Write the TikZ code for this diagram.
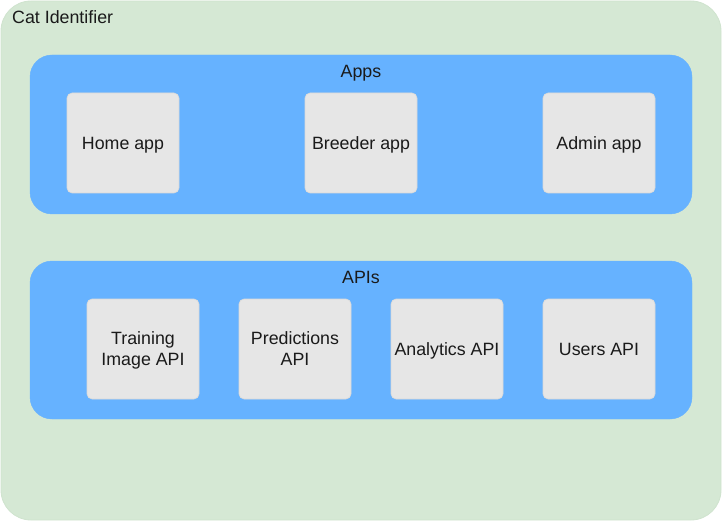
\documentclass[tikz,border=0pt]{standalone}
\usepackage{fontspec}
\setmainfont{Liberation Sans}
\definecolor{outerfill}{HTML}{D5E8D4}
\definecolor{outerline}{HTML}{CFE3CE}
\definecolor{groupfill}{HTML}{66B2FF}
\definecolor{boxfill}{HTML}{E6E6E6}
\definecolor{boxline}{HTML}{D9D9D9}
\definecolor{txt}{HTML}{1A1A1A}
\begin{document}
\begin{tikzpicture}[x=1pt,y=-1pt,
  every node/.style={font=\fontsize{17.8}{21}\selectfont, text=txt},
  outerbox/.style={fill=outerfill, draw=outerline, line width=0.8pt, rounded corners=30pt},
  groupbox/.style={fill=groupfill, draw=groupfill, rounded corners=22pt},
  grouplabel/.style={text depth=0pt},
  itembox/.style={fill=boxfill, draw=boxline, line width=0.6pt, rounded corners=5pt, minimum width=112pt, minimum height=100pt, align=center, inner sep=0pt, text depth=0pt},
]
\useasboundingbox (0,0) rectangle (722,521);
\draw[outerbox] (1,1) rectangle (721,520);
\node[anchor=west, inner sep=0pt] (title) at (12,17) {Cat Identifier};

\draw[groupbox] (30,55) rectangle (692,214);
\node[grouplabel] (appslbl) at (361,71) {Apps};
\node[itembox] (home) at (123,143) {Home app};
\node[itembox] (breeder) at (361,143) {Breeder app};
\node[itembox] (admin) at (599,143) {Admin app};

\draw[groupbox] (30,261) rectangle (692,419);
\node[grouplabel] (apislbl) at (361,277) {APIs};
\node[itembox] (train) at (143,349) {Training\\Image API};
\node[itembox] (pred) at (295,349) {Predictions\\API};
\node[itembox] (anal) at (447,349) {Analytics API};
\node[itembox] (users) at (599,349) {Users API};
\end{tikzpicture}
\end{document}
